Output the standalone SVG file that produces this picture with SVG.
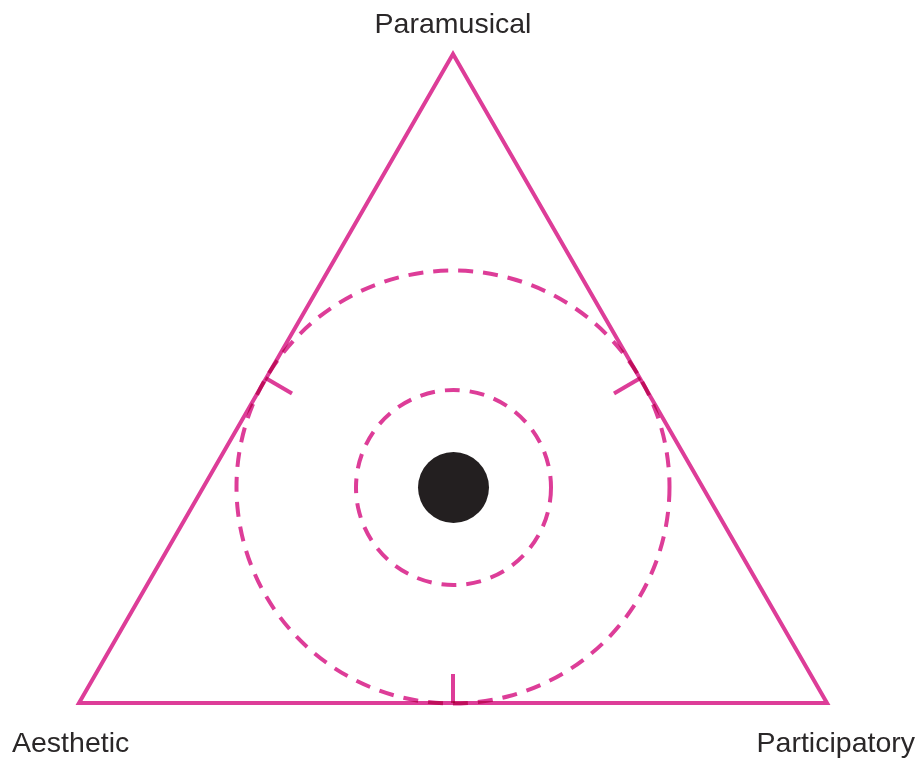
<svg xmlns="http://www.w3.org/2000/svg" width="920" height="758" viewBox="0 0 920 758">
<style>
.pk{fill:none;stroke:#dd3d98;stroke-width:4;mix-blend-mode:multiply}
.dash{stroke-dasharray:15 10}
.lbl{font-family:"Liberation Sans",Arial,sans-serif;font-size:28.5px;fill:#2a2728}
</style>
<rect width="920" height="758" fill="#fff"/>
<g id="triangle"><polygon class="pk" points="453,54 79,703 827,703" stroke-linejoin="miter"/></g>
<g id="outer-circle"><circle class="pk dash" cx="453" cy="487" r="216.5"/></g>
<g id="inner-circle"><circle class="pk dash" cx="453.5" cy="487.5" r="97.5"/></g>
<g id="center-dot"><circle cx="453.5" cy="487.5" r="35.5" fill="#231f20"/></g>
<g id="connectors">
<line class="pk" x1="453" y1="674" x2="453" y2="703"/>
<line class="pk" x1="265.5" y1="378" x2="292" y2="393.5"/>
<line class="pk" x1="640.5" y1="378" x2="614" y2="393.5"/>
</g>
<g id="label-paramusical"><text class="lbl" x="453" y="33" text-anchor="middle">Paramusical</text></g>
<g id="label-aesthetic"><text class="lbl" x="12" y="752">Aesthetic</text></g>
<g id="label-participatory"><text class="lbl" x="915" y="752" text-anchor="end">Participatory</text></g>
</svg>
